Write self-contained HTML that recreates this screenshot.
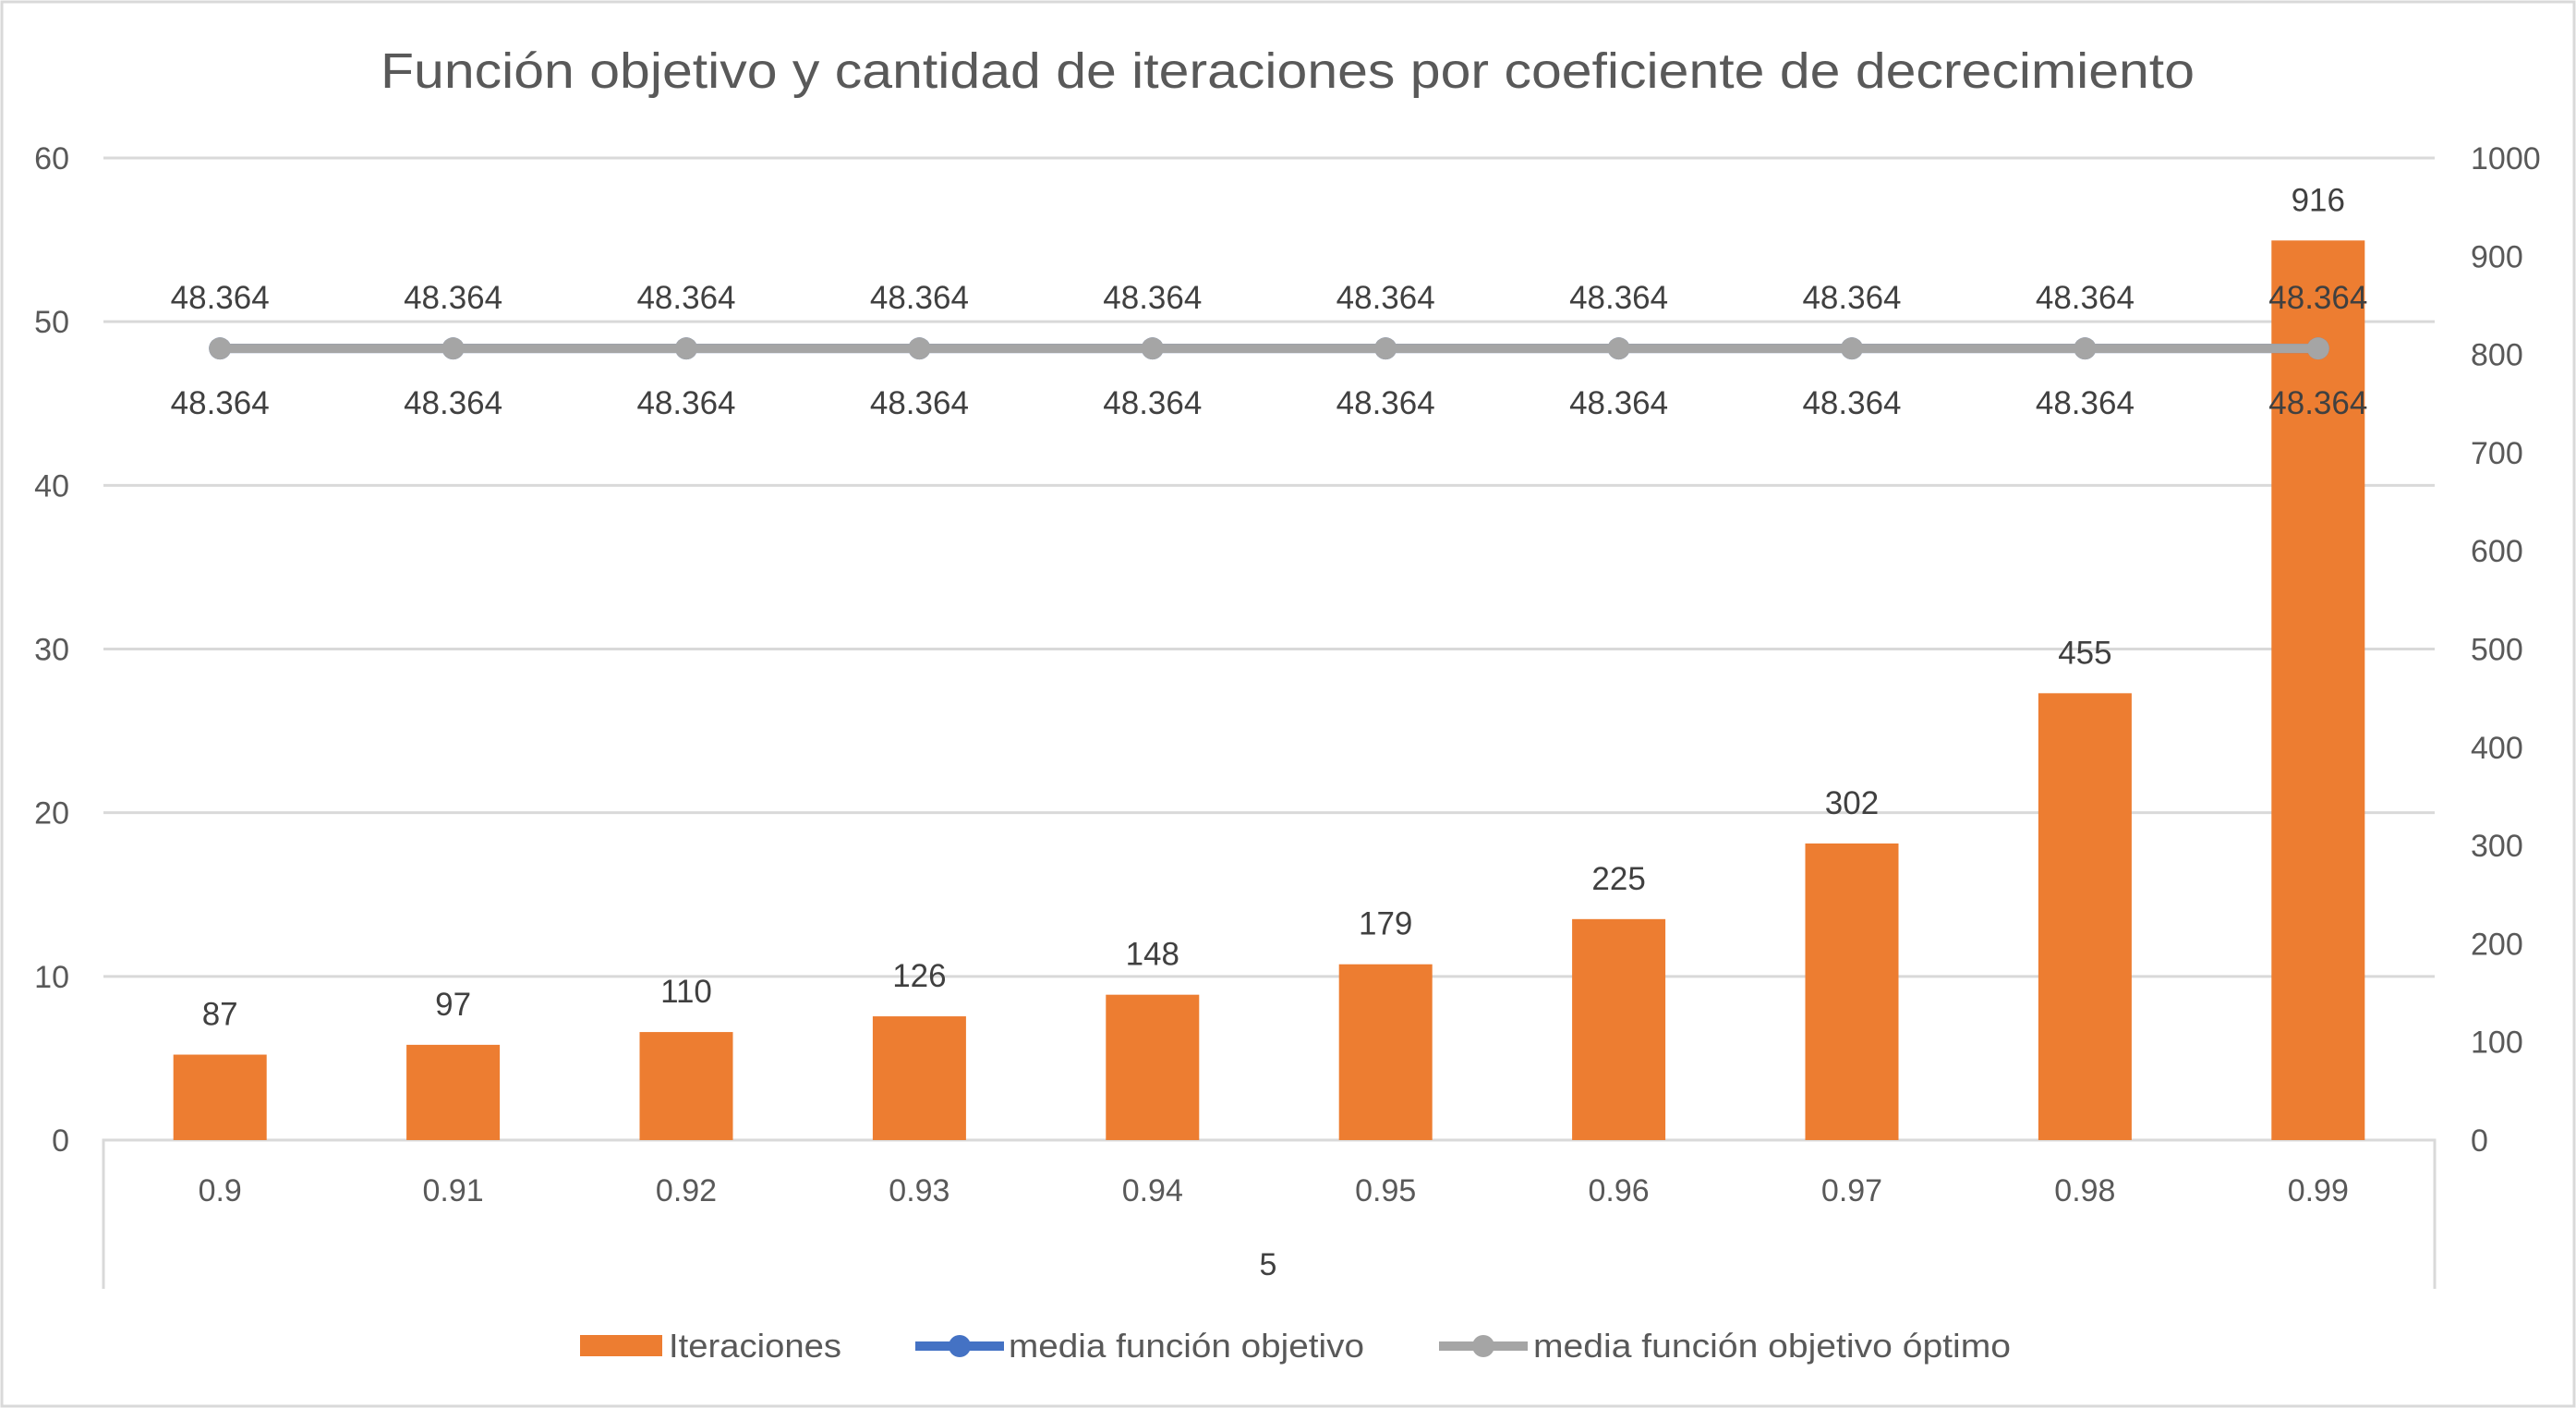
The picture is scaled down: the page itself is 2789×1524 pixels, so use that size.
<!DOCTYPE html>
<html><head><meta charset="utf-8"><style>
html,body{margin:0;padding:0;background:#fff}
svg{display:block}
text{font-family:"Liberation Sans",sans-serif}
</style></head><body>
<svg id="chart" width="2789" height="1524" viewBox="0 0 2789 1524" xmlns="http://www.w3.org/2000/svg">
<rect x="2" y="2" width="2785" height="1520" fill="#fff" stroke="#d9d9d9" stroke-width="3"/>
<text x="412" y="95" textLength="1964" lengthAdjust="spacingAndGlyphs" font-size="54" fill="#595959">Función objetivo y cantidad de iteraciones por coeficiente de decrecimiento</text>
<g id="grid"></g>
<g id="bars"></g>
<g id="lines"></g>
<g id="labels"></g>
<text x="1373" y="1380" text-anchor="middle" font-size="34" fill="#404040">5</text>
<g>
<g><rect x="628" y="1445" width="89" height="23" fill="#ed7d31"/><text x="724" y="1469" font-size="36" textLength="187" lengthAdjust="spacingAndGlyphs" fill="#595959">Iteraciones</text></g>
<g><line x1="991" y1="1457" x2="1087" y2="1457" stroke="#4472c4" stroke-width="10"/><circle cx="1039" cy="1457" r="12" fill="#4472c4"/><text x="1092" y="1469" font-size="36" textLength="385" lengthAdjust="spacingAndGlyphs" fill="#595959">media función objetivo</text></g>
<g><line x1="1558" y1="1457" x2="1654" y2="1457" stroke="#a5a5a5" stroke-width="10"/><circle cx="1606" cy="1457" r="12" fill="#a5a5a5"/><text x="1660" y="1469" font-size="36" textLength="517" lengthAdjust="spacingAndGlyphs" fill="#595959">media función objetivo óptimo</text></g>
</g>
</svg>
<script>
const categories=["0.9","0.91","0.92","0.93","0.94","0.95","0.96","0.97","0.98","0.99"];
const iteraciones=[87,97,110,126,148,179,225,302,455,916];
const mediaFO=[48.364,48.364,48.364,48.364,48.364,48.364,48.364,48.364,48.364,48.364];
const mediaOpt=[48.364,48.364,48.364,48.364,48.364,48.364,48.364,48.364,48.364,48.364];
const leftTicks=[0,10,20,30,40,50,60];
const rightTicks=[0,100,200,300,400,500,600,700,800,900,1000];
const NS="http://www.w3.org/2000/svg";
const L=112,R=2636,T=171,B=1234;
const band=(R-L)/categories.length;
const xc=i=>L+band*(i+0.5);
const yL=v=>B-(v/60)*(B-T);
const yR=v=>B-(v/1000)*(B-T);
function mk(tag,attrs,parent,txt){const e=document.createElementNS(NS,tag);for(const k in attrs)e.setAttribute(k,attrs[k]);if(txt!==undefined)e.textContent=txt;document.getElementById(parent).appendChild(e);return e;}
leftTicks.forEach(v=>{
 if(v>0){const g=mk('line',{x1:L,x2:R,y1:yL(v),y2:yL(v),stroke:'#d9d9d9','stroke-width':3},'grid');
 
 }
 const t=mk('text',{x:75,y:yL(v)+12,'text-anchor':'end','font-size':34,fill:'#595959'},'labels',String(v));
 
 
});
rightTicks.forEach(v=>{
 const t=mk('text',{x:2675,y:yR(v)+12,'font-size':34,fill:'#595959'},'labels',String(v));
 
 
});
const ax=mk('path',{d:`M${L},1395 V${B} H${R} V1395`,fill:'none',stroke:'#d9d9d9','stroke-width':3},'grid');


categories.forEach((c,i)=>{
 const t=mk('text',{x:xc(i),y:1300,'text-anchor':'middle','font-size':34,fill:'#595959'},'labels',c);
 
 
 const v=iteraciones[i];
 const b=mk('rect',{x:xc(i)-50.5,y:yR(v),width:101,height:B-yR(v),fill:'#ed7d31'},'bars');
 
 
 const bl=mk('text',{x:xc(i),y:yR(v)-32,'text-anchor':'middle','font-size':35,fill:'#404040'},'labels',String(v));
 
 
});
function series(vals,color,name,dy){
 const p=mk('polyline',{points:vals.map((v,i)=>xc(i)+','+yL(v)).join(' '),fill:'none',stroke:color,'stroke-width':10},'lines');
 
 
 vals.forEach((v,i)=>{
  const c=mk('circle',{cx:xc(i),cy:yL(v),r:12,fill:color},'lines');
  
  
  const t=mk('text',{x:xc(i),y:yL(v)+dy,'text-anchor':'middle','font-size':35,fill:'#404040'},'labels',v.toFixed(3));
  
  
 });
}
series(mediaFO,'#4472c4','media-funcion-objetivo',-43);
series(mediaOpt,'#a5a5a5','media-funcion-objetivo-optimo',71);
</script>
</body></html>
